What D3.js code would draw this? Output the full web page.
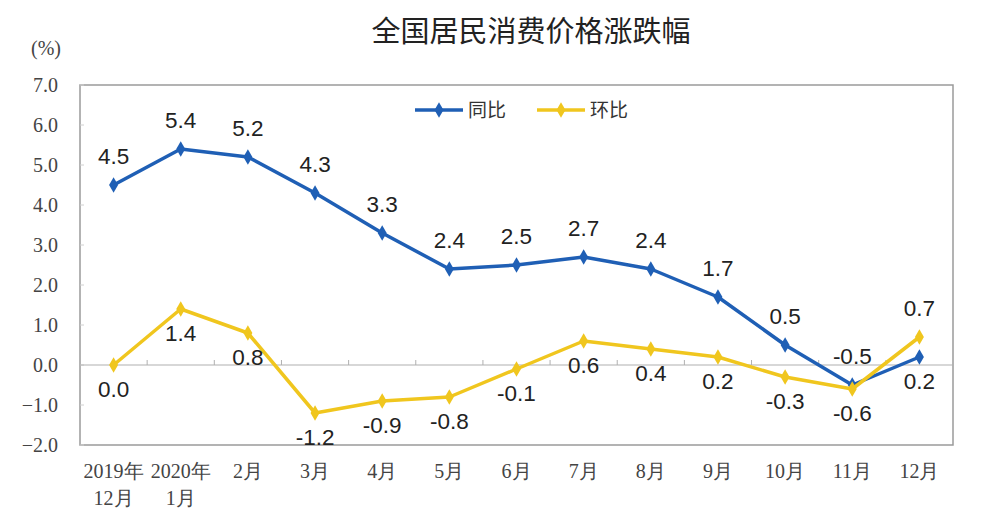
<!DOCTYPE html>
<html>
<head>
<meta charset="utf-8">
<script src="https://cdn.jsdelivr.net/npm/d3@7"></script>
<style>
  body { margin: 0; background: #fff; }
</style>
</head>
<body>
<div id="viz"></div>
<script>
const months = ["2019年|12月", "2020年|1月", "2月", "3月", "4月", "5月", "6月", "7月", "8月", "9月", "10月", "11月", "12月"]
const yoy = [4.5, 5.4, 5.2, 4.3, 3.3, 2.4, 2.5, 2.7, 2.4, 1.7, 0.5, -0.5, 0.2]
const mom = [0.0, 1.4, 0.8, -1.2, -0.9, -0.8, -0.1, 0.6, 0.4, 0.2, -0.3, -0.6, 0.7]
const yTicks = [-2, -1, 0, 1, 2, 3, 4, 5, 6, 7]
// which labels sit above (true) or below (false) their point
const yoyAbove = [true, true, true, true, true, true, true, true, true, true, true, true, false]
const momAbove = [false, false, false, false, false, false, false, false, false, false, false, false, true]

const width = 1000
const height = 515
const margin = {top: 85, right: 47, bottom: 70, left: 80}

const svg = d3.select("#viz").append("svg").attr("width", width).attr("height", height)

const xScale = d3.scaleBand()
    .domain(d3.range(months.length))
    .range([margin.left, width - margin.right])
const xc = i => xScale(i) + xScale.bandwidth() / 2

const yScale = d3.scaleLinear()
    .domain([-2, 7])
    .range([height - margin.bottom, margin.top])

// title
svg.append("text")
    .attr("x", 531).attr("y", 42)
    .attr("text-anchor", "middle")
    .attr("font-family", "'Noto Sans CJK SC', sans-serif")
    .attr("font-size", 29)
    .attr("fill", "#222")
    .text("全国居民消费价格涨跌幅")

svg.append("text")
    .attr("x", 46).attr("y", 55)
    .attr("text-anchor", "middle")
    .attr("font-family", "'Liberation Serif', serif")
    .attr("font-size", 20)
    .attr("fill", "#444")
    .text("(%)")

// plot frame
svg.append("rect")
    .attr("x", margin.left).attr("y", margin.top)
    .attr("width", width - margin.left - margin.right)
    .attr("height", height - margin.top - margin.bottom)
    .attr("fill", "none").attr("stroke", "#9a9a9a").attr("stroke-width", 1.5)

// y axis labels
const yAxis = d3.axisLeft(yScale).tickValues(yTicks).tickFormat(d3.format(".1f")).tickSize(0).tickPadding(22)
const yg = svg.append("g").attr("transform", `translate(${margin.left},0)`).call(yAxis)
yg.select(".domain").remove()
yg.selectAll("text")
    .attr("font-family", "'Liberation Serif', serif")
    .attr("font-size", 20)
    .attr("fill", "#444")

// faint minor ticks on left border
svg.append("g").selectAll("line")
    .data(yTicks)
    .join("line")
    .attr("x1", margin.left).attr("x2", margin.left + 4)
    .attr("y1", d => yScale(d)).attr("y2", d => yScale(d))
    .attr("stroke", "#d0d0d0")

// zero line with category ticks
svg.append("line")
    .attr("x1", margin.left).attr("x2", width - margin.right)
    .attr("y1", yScale(0)).attr("y2", yScale(0))
    .attr("stroke", "#b0b0b0").attr("stroke-width", 1.2)
svg.append("g").selectAll("line")
    .data(d3.range(1, months.length))
    .join("line")
    .attr("x1", d => xScale(d)).attr("x2", d => xScale(d))
    .attr("y1", yScale(0)).attr("y2", yScale(0) - 5)
    .attr("stroke", "#b0b0b0")

// x labels
const xl = svg.append("g").selectAll("text")
    .data(months)
    .join("text")
    .attr("x", (d, i) => xc(i))
    .attr("y", height - margin.bottom + 33)
    .attr("text-anchor", "middle")
    .attr("font-family", "'Liberation Serif', serif")
    .attr("font-size", 20)
    .attr("fill", "#444")
xl.each(function(d){
    const parts = d.split("|")
    const t = d3.select(this)
    parts.forEach((p, k) => {
        t.append("tspan").attr("x", t.attr("x")).attr("dy", k === 0 ? 0 : 27).text(p)
    })
})

const series = [
    {name: "同比", values: yoy, above: yoyAbove, color: "#1f5fb5"},
    {name: "环比", values: mom, above: momAbove, color: "#f0c61e"}
]

const line = d3.line().x((d, i) => xc(i)).y(d => yScale(d))
const diamond = d3.symbol().type(d3.symbolDiamond).size(70)

series.forEach(s => {
    svg.append("path")
        .datum(s.values)
        .attr("d", line)
        .attr("fill", "none")
        .attr("stroke", s.color)
        .attr("stroke-width", 3.5)
        .attr("stroke-linejoin", "round")
    svg.append("g").selectAll("path")
        .data(s.values)
        .join("path")
        .attr("d", diamond)
        .attr("transform", (d, i) => `translate(${xc(i)},${yScale(d)})`)
        .attr("fill", s.color)
})

// data labels after lines so they read clearly
series.forEach(s => {
    svg.append("g").selectAll("text")
        .data(s.values)
        .join("text")
        .attr("x", (d, i) => xc(i))
        .attr("y", (d, i) => yScale(d) + (s.above[i] ? -21 : 32))
        .attr("text-anchor", "middle")
        .attr("font-family", "'Liberation Sans', Arial, sans-serif")
        .attr("font-size", 22.5)
        .attr("fill", "#222")
        .text(d => d.toFixed(1))
})

// legend
const legend = svg.append("g").attr("transform", "translate(415,110)")
series.forEach((s, i) => {
    const g = legend.append("g").attr("transform", `translate(${i * 122},0)`)
    g.append("line").attr("x1", 0).attr("x2", 48).attr("stroke", s.color).attr("stroke-width", 3.5)
    g.append("path").attr("d", diamond).attr("transform", "translate(24,0)").attr("fill", s.color)
    g.append("text").attr("x", 53).attr("y", 7)
        .attr("font-family", "'Noto Sans CJK SC', sans-serif")
        .attr("font-size", 19)
        .attr("fill", "#333")
        .text(s.name)
})
</script>
</body>
</html>
